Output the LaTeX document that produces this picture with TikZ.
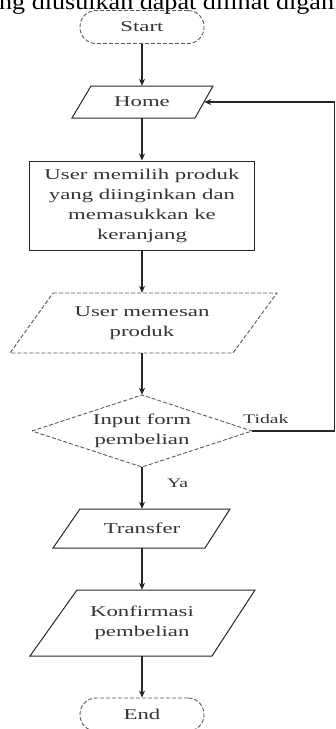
\documentclass[tikz,border=0pt]{standalone}
\usepackage{fontspec}
\setmainfont{Liberation Serif}
\newfontfamily\diagfont[FakeStretch=1.52]{Liberation Serif}
\newfontfamily\bodyfont[FakeStretch=1.16]{Liberation Serif}
\usetikzlibrary{arrows.meta}
\definecolor{linec}{HTML}{262626}
\definecolor{textc}{HTML}{333333}
\definecolor{dashc}{HTML}{5A5A5A}
\tikzset{
  boxtext/.style={inner sep=0pt, text=textc, align=center,
    font=\diagfont\fontsize{15}{20}\selectfont},
  outline/.style={draw=linec, line width=1pt},
  dashline/.style={draw=dashc, line width=0.9pt, dash pattern=on 4pt off 2pt},
  terminal/.style={boxtext, dashline, rounded corners=16pt,
    minimum width=124pt, minimum height=33pt},
  flow/.style={draw=linec, line width=1.1pt,
    -{Stealth[length=7pt,width=6pt]}},
  branch/.style={inner sep=0pt, text=textc,
    font=\diagfont\fontsize{13}{15}\selectfont}
}
\begin{document}
\begin{tikzpicture}[x=1pt, y=-1pt]
\useasboundingbox (0,0) rectangle (336,729);
\begin{scope}
\clip (0,0) rectangle (336,729);

% running text of the page above the chart
\node[anchor=base west, inner sep=0pt, font=\bodyfont\fontsize{22.5}{26}\selectfont]
  (caption) at (-1,9) {ng diusulkan dapat dilihat digam};

% start / end terminals
\node[terminal] (start) at (142,27) {Start};
\node[terminal] (end) at (142,714.5) {End};

% input: Home
\draw[outline] (91,86) -- (213,86) -- (195,118) -- (72,118) -- cycle;
\node[boxtext, minimum width=124pt, minimum height=32pt] (home) at (142,102) {Home};

% process box
\node[boxtext, outline, minimum width=225pt, minimum height=89pt] (pilih) at (142,205.5)
  {User memilih produk\\yang diinginkan dan\\memasukkan ke\\keranjang};

% input: order
\draw[dashline] (53,293) -- (277,293) -- (233,353) -- (10,353) -- cycle;
\node[boxtext, minimum width=200pt, minimum height=60pt] (pesan) at (142,323)
  {User memesan\\produk};

% decision
\draw[dashline] (32,431) -- (142,395) -- (252,431) -- (142,467) -- cycle;
\node[boxtext, minimum width=220pt, minimum height=72pt] (form) at (142,431)
  {Input form\\pembelian};

% input: transfer
\draw[outline] (80,509) -- (230,509) -- (205,548) -- (53,548) -- cycle;
\node[boxtext, minimum width=150pt, minimum height=39pt] (transfer) at (142,528.5) {Transfer};

% input: confirmation
\draw[outline] (77,590) -- (255,590) -- (212,656) -- (30,656) -- cycle;
\node[boxtext, minimum width=180pt, minimum height=66pt] (konfirmasi) at (142,623)
  {Konfirmasi\\pembelian};

% connectors
\draw[flow] (start) -- (home);
\draw[flow] (home) -- (pilih);
\draw[flow] (pilih) -- (pesan);
\draw[flow] (pesan) -- (form);
\draw[flow] (form) -- (transfer);
\draw[flow] (transfer) -- (konfirmasi);
\draw[flow] (konfirmasi) -- (end);

% "no" branch back to Home
\coordinate (backR) at (334.5,431);
\draw[flow] (form.east) -- (backR) |- (home.east);

% branch labels
\node[branch, anchor=base west] (tidak) at (243,423) {Tidak};
\node[branch, anchor=base west] (ya) at (167,487) {Ya};
\end{scope}
\end{tikzpicture}
\end{document}
